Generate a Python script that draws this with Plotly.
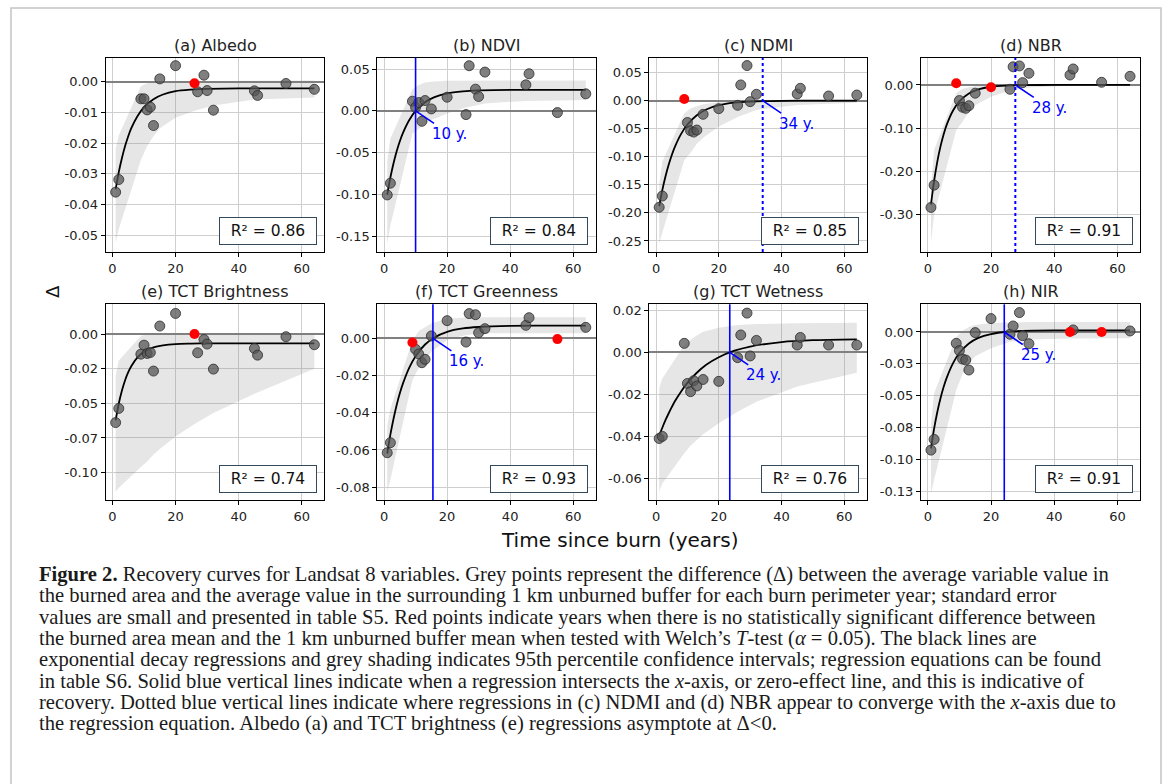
import plotly.graph_objects as go

W, H = 1173, 784

# ---------------- data ----------------
years = [1, 2, 9, 10, 11, 12, 13, 15, 20, 26, 27, 29, 30, 32, 45, 46, 55, 64]

delta_albedo = [-0.0360, -0.0319, -0.0056, -0.0056, -0.0092, -0.0083, -0.0143, 0.0009, 0.0052,
                -0.0005, -0.0033, 0.0021, -0.0029, -0.0093, -0.0030, -0.0045, -0.0006, -0.0025]
delta_ndvi = [-0.1004, -0.0864, 0.0116, 0.0044, 0.0100, -0.0124, 0.0124, 0.0024, 0.0164,
              -0.0044, 0.0540, 0.0260, 0.0172, 0.0464, 0.0312, 0.0444, -0.0020, 0.0204]
delta_ndmi = [-0.190, -0.170, 0.003, -0.039, -0.0536, -0.056, -0.0524, -0.0244, -0.0143,
              -0.0083, 0.028, 0.0625, -0.0018, 0.0113, 0.0119, 0.022, 0.0083, 0.010]
delta_nbr = [-0.283, -0.2315, 0.0038, -0.036, -0.0515, -0.054, -0.048, -0.019, -0.0054,
             -0.010, 0.042, 0.044, 0.0054, 0.027, 0.023, 0.037, 0.0062, 0.020]
delta_bright = [-0.0639, -0.0537, -0.0145, -0.0080, -0.0140, -0.0133, -0.0267, 0.0058, 0.0149,
                0.0000, -0.0135, -0.0039, -0.0072, -0.0253, -0.0104, -0.0152, -0.0019, -0.0077]
delta_green = [-0.0615, -0.0561, -0.0022, -0.0059, -0.0084, -0.0131, -0.0113, 0.0013, 0.0095,
               -0.0020, 0.0133, 0.0127, 0.0030, 0.0052, 0.0070, 0.0111, -0.0004, 0.0059]
delta_wet = [-0.0410, -0.0400, 0.0043, -0.0148, -0.0187, -0.0135, -0.0160, -0.0129, -0.0138,
             -0.0025, 0.0083, 0.0187, -0.0017, 0.0057, 0.0035, 0.0071, 0.0035, 0.0035]
delta_nir = [-0.0926, -0.0842, -0.0089, -0.0146, -0.0212, -0.0220, -0.0298, -0.0005, 0.0105,
             -0.0018, 0.0047, 0.0152, -0.0029, -0.0092, 0.0000, 0.0016, 0.0000, 0.0008]

# years with no significant difference (red points)
red_albedo = [26]
red_ndvi = []
red_ndmi = [9]
red_nbr = [9, 20]
red_bright = [26]
red_green = [9, 55]
red_wet = []
red_nir = [45, 55]

# regression curves
curve_x = [1, 2, 3, 4, 5, 6, 8, 10, 13, 16, 20, 25, 30, 40, 50, 64]
fit_albedo = [-0.0351, -0.0295, -0.0249, -0.0210, -0.0178, -0.0151, -0.0111, -0.0083, -0.0057,
              -0.0042, -0.0031, -0.0026, -0.00235, -0.00222, -0.0022, -0.0022]
fit_ndvi = [-0.1000, -0.0796, -0.0625, -0.0482, -0.0362, -0.0262, -0.0108, 0.0000, 0.0104,
            0.0165, 0.0210, 0.0234, 0.0245, 0.0251, 0.0252, 0.0252]
fit_ndmi = [-0.1880, -0.1594, -0.1351, -0.1146, -0.0972, -0.0824, -0.0592, -0.0426, -0.0260,
            -0.0158, -0.0082, -0.0036, -0.0016, -0.0003, -0.0001, 0.0000]
fit_nbr = [-0.2766, -0.2217, -0.1777, -0.1425, -0.1143, -0.0916, -0.0589, -0.0378, -0.0195,
           -0.0100, -0.0041, -0.0014, -0.0004, 0.0000, 0.0000, 0.0000]
fit_bright = [-0.0622, -0.0501, -0.0407, -0.0333, -0.0275, -0.0230, -0.0167, -0.0128, -0.0096,
              -0.0081, -0.0072, -0.0069, -0.0067, -0.0067, -0.0067, -0.0067]
fit_green = [-0.0619, -0.0518, -0.0432, -0.0358, -0.0295, -0.0242, -0.0157, -0.0096, -0.0033,
             0.0005, 0.0035, 0.0053, 0.0061, 0.0067, 0.0068, 0.0068]
fit_wet = [-0.0398, -0.0359, -0.0323, -0.0291, -0.0261, -0.0233, -0.0186, -0.0145, -0.0097,
           -0.0059, -0.0023, 0.0008, 0.0028, 0.0049, 0.0058, 0.0062]
fit_nir = [-0.0913, -0.0758, -0.0629, -0.0522, -0.0432, -0.0358, -0.0244, -0.0165, -0.0090,
           -0.0046, -0.0016, 0.0002, 0.0008, 0.0012, 0.0013, 0.0013]

# 95% confidence bands (lower / upper edge)
band_x = [1, 2, 9, 11, 13, 15, 20, 26, 32, 45, 64]
lo_albedo = [-0.0525, -0.048, -0.0255, -0.021, -0.0178, -0.0152, -0.0118, -0.0095, -0.0078, -0.0058, -0.0052]
hi_albedo = [-0.022, -0.0175, -0.0015, -0.0005, -0.0003, -0.0002, -0.0001, 0.0, 0.0002, 0.0003, 0.0004]
lo_ndvi = [-0.159, -0.137, -0.027, -0.021, -0.016, -0.011, -0.003, 0.004, 0.009, 0.012, 0.013]
hi_ndvi = [-0.06, -0.033, 0.026, 0.031, 0.034, 0.035, 0.036, 0.0362, 0.0363, 0.0364, 0.0364]
lo_ndmi = [-0.255, -0.235, -0.106, -0.093, -0.077, -0.066, -0.046, -0.029, -0.0167, -0.0077, -0.0036]
hi_ndmi = [-0.15, -0.109, -0.0226, -0.014, -0.010, -0.0065, -0.003, -0.0015, -0.0007, -0.0002, 0.0]
lo_nbr = [-0.365, -0.30, -0.104, -0.085, -0.062, -0.047, -0.027, -0.013, -0.006, -0.002, -0.001]
hi_nbr = [-0.24, -0.15, -0.019, -0.009, -0.005, -0.003, -0.001, 0.0, 0.0, 0.0, 0.0]
lo_bright = [-0.114, -0.111, -0.096, -0.092, -0.087, -0.083, -0.074, -0.065, -0.057, -0.043, -0.025]
hi_bright = [-0.030, -0.019, -0.0014, 0.0, 0.0, 0.0, 0.0, 0.0, 0.0, 0.0, 0.0]
lo_green = [-0.0825, -0.076, -0.0224, -0.016, -0.0117, -0.0072, -0.0009, 0.0018, 0.0027, 0.0028, 0.0028]
hi_green = [-0.047, -0.038, -0.001, 0.004, 0.006, 0.008, 0.0105, 0.0112, 0.0113, 0.0113, 0.0113]
lo_wet = [-0.0663, -0.0624, -0.048, -0.0445, -0.0417, -0.039, -0.0338, -0.0283, -0.0235, -0.0163, -0.0097]
hi_wet = [-0.0171, -0.0124, 0.0035, 0.006, 0.008, 0.0098, 0.0117, 0.013, 0.0135, 0.0139, 0.0141]
lo_nir = [-0.1266, -0.116, -0.0455, -0.033, -0.0246, -0.019, -0.0128, -0.0076, -0.0058, -0.0052, -0.005]
hi_nir = [-0.072, -0.048, -0.004, 0.001, 0.004, 0.0055, 0.007, 0.0075, 0.0078, 0.0078, 0.0078]

titles = ["(a) Albedo", "(b) NDVI", "(c) NDMI", "(d) NBR",
          "(e) TCT Brightness", "(f) TCT Greenness", "(g) TCT Wetness", "(h) NIR"]
r2_values = [0.86, 0.84, 0.85, 0.91, 0.74, 0.93, 0.76, 0.91]
recovery_year = [None, 10.0, 34.0, 27.7, None, 15.5, 23.5, 24.2]
recovery_label = ["", "10 y.", "34 y.", "28 y.", "", "16 y.", "24 y.", "25 y."]
recovery_dotted = [False, False, True, True, False, False, False, False]

yticks_a = [0.0, -0.01, -0.02, -0.03, -0.04, -0.05]
ylabels_a = ["0.00", "-0.01", "-0.02", "-0.03", "-0.04", "-0.05"]
yticks_b = [0.05, 0.0, -0.05, -0.10, -0.15]
ylabels_b = ["0.05", "0.00", "-0.05", "-0.10", "-0.15"]
yticks_c = [0.05, 0.0, -0.05, -0.10, -0.15, -0.20, -0.25]
ylabels_c = ["0.05", "0.00", "-0.05", "-0.10", "-0.15", "-0.20", "-0.25"]
yticks_d = [0.0, -0.10, -0.20, -0.30]
ylabels_d = ["0.00", "-0.10", "-0.20", "-0.30"]
yticks_e = [0.0, -0.025, -0.05, -0.075, -0.10]
ylabels_e = ["0.00", "-0.02", "-0.05", "-0.07", "-0.10"]
yticks_f = [0.0, -0.02, -0.04, -0.06, -0.08]
ylabels_f = ["0.00", "-0.02", "-0.04", "-0.06", "-0.08"]
yticks_g = [0.02, 0.0, -0.02, -0.04, -0.06]
ylabels_g = ["0.02", "0.00", "-0.02", "-0.04", "-0.06"]
yticks_h = [0.0, -0.025, -0.05, -0.075, -0.10, -0.125]
ylabels_h = ["0.00", "-0.03", "-0.05", "-0.08", "-0.10", "-0.13"]

xticks = [0, 20, 40, 60]
x_range = [-2.15, 67.15]
y_ranges = [[-0.0555, 0.0078], [-0.1686, 0.0636], [-0.2697, 0.0765], [-0.386, 0.063],
            [-0.1198, 0.0215], [-0.0869, 0.0183], [-0.0703, 0.0229], [-0.1317, 0.0217]]

caption_lines = [
    "<b>Figure 2.</b> Recovery curves for Landsat 8 variables. Grey points represent the difference (Δ) between the average variable value in",
    "the burned area and the average value in the surrounding 1 km unburned buffer for each burn perimeter year; standard error",
    "values are small and presented in table S5. Red points indicate years when there is no statistically significant difference between",
    "the burned area mean and the 1 km unburned buffer mean when tested with Welch’s <i>T</i>-test (<i>α</i> = 0.05). The black lines are",
    "exponential decay regressions and grey shading indicates 95th percentile confidence intervals; regression equations can be found",
    "in table S6. Solid blue vertical lines indicate when a regression intersects the <i>x</i>-axis, or zero-effect line, and this is indicative of",
    "recovery. Dotted blue vertical lines indicate where regressions in (c) NDMI and (d) NBR appear to converge with the <i>x</i>-axis due to",
    "the regression equation. Albedo (a) and TCT brightness (e) regressions asymptote at Δ&lt;0.",
]

panels = [
    dict(y=delta_albedo, red=red_albedo, fit=fit_albedo, lo=lo_albedo, hi=hi_albedo, yt=yticks_a, yl=ylabels_a),
    dict(y=delta_ndvi, red=red_ndvi, fit=fit_ndvi, lo=lo_ndvi, hi=hi_ndvi, yt=yticks_b, yl=ylabels_b),
    dict(y=delta_ndmi, red=red_ndmi, fit=fit_ndmi, lo=lo_ndmi, hi=hi_ndmi, yt=yticks_c, yl=ylabels_c),
    dict(y=delta_nbr, red=red_nbr, fit=fit_nbr, lo=lo_nbr, hi=hi_nbr, yt=yticks_d, yl=ylabels_d),
    dict(y=delta_bright, red=red_bright, fit=fit_bright, lo=lo_bright, hi=hi_bright, yt=yticks_e, yl=ylabels_e),
    dict(y=delta_green, red=red_green, fit=fit_green, lo=lo_green, hi=hi_green, yt=yticks_f, yl=ylabels_f),
    dict(y=delta_wet, red=red_wet, fit=fit_wet, lo=lo_wet, hi=hi_wet, yt=yticks_g, yl=ylabels_g),
    dict(y=delta_nir, red=red_nir, fit=fit_nir, lo=lo_nir, hi=hi_nir, yt=yticks_h, yl=ylabels_h),
]

# ---------------- layout geometry (pixels) ----------------
col_px = [(105.7, 324.3), (377.3, 595.7), (649.3, 866.7), (921.0, 1140.0)]
row_px = [(57.7, 252.0), (304.3, 500.0)]
title_y_px = [45, 291]

FONT = "DejaVu Sans"
fig = go.Figure()
annotations = []
shapes = []

for i, p in enumerate(panels):
    n = i + 1
    xa = "x" if n == 1 else f"x{n}"
    ya = "y" if n == 1 else f"y{n}"
    col, row = i % 4, i // 4
    l, r = col_px[col]
    t, b = row_px[row]

    fig.add_trace(go.Scatter(x=band_x, y=p["lo"], mode="lines", line=dict(width=0),
                             hoverinfo="skip", showlegend=False, xaxis=xa, yaxis=ya))
    fig.add_trace(go.Scatter(x=band_x, y=p["hi"], mode="lines", line=dict(width=0),
                             fill="tonexty", fillcolor="rgba(128,128,128,0.2)",
                             hoverinfo="skip", showlegend=False, xaxis=xa, yaxis=ya))
    fig.add_trace(go.Scatter(x=curve_x, y=p["fit"], mode="lines",
                             line=dict(color="black", width=1.8, shape="spline", smoothing=0.8),
                             showlegend=False, xaxis=xa, yaxis=ya))
    gx = [x for x in years if x not in p["red"]]
    gy = [v for x, v in zip(years, p["y"]) if x not in p["red"]]
    rx = [x for x in years if x in p["red"]]
    ry = [v for x, v in zip(years, p["y"]) if x in p["red"]]
    fig.add_trace(go.Scatter(x=gx, y=gy, mode="markers",
                             marker=dict(size=10, color="rgba(85,85,85,0.75)",
                                         line=dict(color="rgba(45,45,45,0.8)", width=1)),
                             showlegend=False, cliponaxis=False, xaxis=xa, yaxis=ya))
    if rx:
        fig.add_trace(go.Scatter(x=rx, y=ry, mode="markers",
                                 marker=dict(size=10, color="#ff0000", line=dict(width=0)),
                                 showlegend=False, cliponaxis=False, xaxis=xa, yaxis=ya))

    axis_common = dict(showline=True, linecolor="black", linewidth=1, mirror=True,
                       ticks="outside", ticklen=4, tickcolor="black", tickwidth=1,
                       showgrid=True, gridcolor="#cfcfcf", gridwidth=1,
                       tickfont=dict(family=FONT, size=13, color="#222"))
    fig.layout[("xaxis" if n == 1 else f"xaxis{n}")] = dict(
        domain=[l / W, r / W], anchor=ya, range=x_range, tickmode="array",
        tickvals=xticks, ticktext=[str(v) for v in xticks], zeroline=False, **axis_common)
    fig.layout[("yaxis" if n == 1 else f"yaxis{n}")] = dict(
        domain=[1 - b / H, 1 - t / H], anchor=xa, range=y_ranges[i], tickmode="array",
        tickvals=p["yt"], ticktext=p["yl"], zeroline=True, zerolinecolor="#808080",
        zerolinewidth=1.6, **axis_common)

    # title
    annotations.append(dict(text=titles[i], xref="paper", yref="paper",
                            x=(l + r) / 2 / W, y=1 - title_y_px[row] / H,
                            xanchor="center", yanchor="middle", showarrow=False,
                            font=dict(family=FONT, size=16, color="#222")))
    # R^2 box
    annotations.append(dict(text=f"R² = {r2_values[i]:.2f}", xref=f"{xa} domain", yref=f"{ya} domain",
                            x=0.966, y=0.036, xanchor="right", yanchor="bottom", showarrow=False,
                            bgcolor="white", bordercolor="#34495a", borderwidth=1, borderpad=4,
                            width=88, height=18,
                            font=dict(family=FONT, size=15.5, color="#111")))
    # recovery line + label
    if recovery_year[i] is not None:
        shapes.append(dict(type="line", xref=xa, yref=f"{ya} domain",
                           x0=recovery_year[i], x1=recovery_year[i], y0=0, y1=1,
                           line=dict(color="#0000ff", width=2 if recovery_dotted[i] else 1.6,
                                     dash="dot" if recovery_dotted[i] else "solid"),
                           layer="above"))
        annotations.append(dict(text=recovery_label[i], xref=xa, yref=ya, x=recovery_year[i], y=0,
                                ax=34, ay=23, showarrow=True, arrowhead=0, arrowwidth=1.6,
                                arrowcolor="#0000ff", standoff=0,
                                font=dict(family=FONT, size=15, color="#0000ff")))

# shared labels
annotations.append(dict(text="Δ", xref="paper", yref="paper", x=52 / W, y=1 - 292 / H,
                        textangle=-90, showarrow=False, xanchor="center", yanchor="middle",
                        font=dict(family=FONT, size=18, color="#111")))
annotations.append(dict(text="Time since burn (years)", xref="paper", yref="paper",
                        x=620 / W, y=1 - 540 / H, showarrow=False, xanchor="center", yanchor="middle",
                        font=dict(family=FONT, size=20, color="#111")))

cap_y = [574, 595.5, 617, 638, 659.5, 681, 702, 723]
for txt, yc in zip(caption_lines, cap_y):
    annotations.append(dict(text=txt, xref="paper", yref="paper", x=37 / W, y=1 - yc / H,
                            xanchor="left", yanchor="middle", showarrow=False, align="left",
                            font=dict(family="Liberation Serif", size=20.6, color="#1a1a1a")))

# outer frame of the figure
shapes.append(dict(type="rect", xref="paper", yref="paper", x0=11 / W, x1=1161 / W,
                   y0=-0.05, y1=1 - 8 / H, line=dict(color="#c4c4c4", width=1.5),
                   fillcolor="rgba(0,0,0,0)", layer="below"))

fig.update_layout(width=W, height=H, margin=dict(l=0, r=0, t=0, b=0),
                  paper_bgcolor="white", plot_bgcolor="white", template="none",
                  showlegend=False, annotations=annotations, shapes=shapes,
                  font=dict(family=FONT))

fig.write_html("out.html")
